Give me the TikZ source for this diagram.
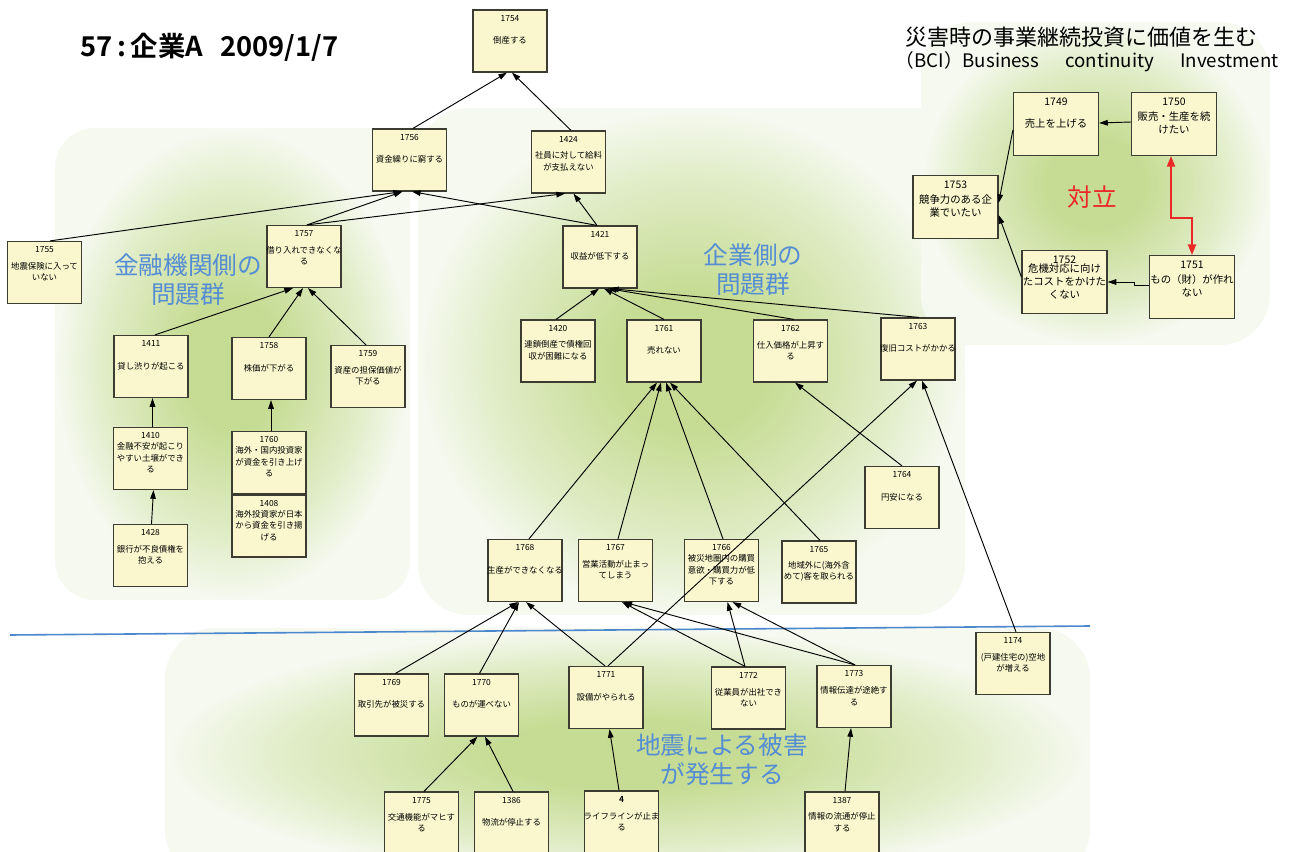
\documentclass[tikz,border=0pt]{standalone}
\usepackage{fontspec}
\setmainfont{Noto Sans CJK JP}[BoldFont={Noto Sans CJK JP Bold}]
\usetikzlibrary{arrows.meta,calc}

\definecolor{boxfill}{RGB}{250,247,206}
\definecolor{boxline}{RGB}{60,60,50}
\definecolor{grpblue}{RGB}{84,141,212}
\definecolor{conflictred}{RGB}{235,40,40}
\definecolor{sepblue}{RGB}{75,135,205}
\definecolor{bgin}{RGB}{198,220,148}
\definecolor{bgmid}{RGB}{224,236,198}
\definecolor{bgout}{RGB}{246,249,240}

% soft green backdrop for each group of issues (path box spans -25bp..25bp)
\pgfdeclareradialshading{blob}{\pgfpoint{0bp}{0bp}}{color(0bp)=(bgin); color(7bp)=(bgin); color(18bp)=(bgmid); color(25bp)=(bgout); color(50bp)=(bgout)}

\tikzset{
  card/.style={draw=boxline, line width=0.9pt, fill=boxfill, minimum width=55.5pt, minimum height=46.5pt, inner sep=0pt},
  bigcard/.style={card, minimum width=63.75pt, minimum height=47pt},
  idtext/.style={inner sep=0pt, font=\fontsize{6.3}{7}\selectfont},
  bodytext/.style={inner sep=0pt, align=center, font=\fontsize{6.3}{8.6}\selectfont},
  bigid/.style={inner sep=0pt, font=\fontsize{7.8}{9}\selectfont},
  bigbody/.style={inner sep=0pt, align=center, font=\fontsize{7.8}{9.75}\selectfont},
  arr/.style={-{Triangle[length=6.5pt,width=4.2pt]}, line width=0.7pt},
  redarr/.style={{Triangle[length=8pt,width=6pt]}-{Triangle[length=8pt,width=6pt]}, line width=1.5pt, draw=conflictred},
  grouplabel/.style={text=grpblue, align=center, font=\fontsize{18.5}{21.5}\selectfont},
}

% issue card: name, x, y, id number, text
\newcommand\issue[5]{%
  \node[card] (#1) at (#2,#3) {};
  \node[idtext] (#1-id) at ($(#1.north)+(0,9)$) {#4};
  \node[bodytext] (#1-tx) at ($(#1.north)+(0,31)$) {#5};
}
% larger card for the BCI group
\newcommand\aim[5]{%
  \node[bigcard] (#1) at (#2,#3) {};
  \node[bigid] (#1-id) at ($(#1.north)+(0,9.5)$) {#4};
  \node[bigbody] (#1-tx) at ($(#1.north)+(0,31)$) {#5};
}

\begin{document}
\begin{tikzpicture}[x=0.75pt,y=-0.75pt]
\useasboundingbox (0,0) rectangle (1293,852);
\clip (0,0) rectangle (1293,852);
\fill[white] (0,0) rectangle (1293,852);

% group backdrops
\shade[shading=blob, rounded corners=30pt] (55,128) rectangle (410,600);
\shade[shading=blob, rounded corners=38pt] (418,108) rectangle (965,615);
\shade[shading=blob, rounded corners=38pt] (921,22) rectangle (1270,345);
\shade[shading=blob, rounded corners=38pt] (165,628) rectangle (1090,880);

% separator between damage and consequences
\draw[sepblue, line width=1.2pt] (10,635) -- (1090,626);

% headings
\node[anchor=west, font=\bfseries\fontsize{20.5}{22}\selectfont] (title) at (76,47) {57\,:\,企業A\hspace{13pt}2009/1/7};
\node[anchor=west, font=\fontsize{16.5}{18}\selectfont] (bci1) at (901,37) {災害時の事業継続投資に価値を生む};
\node[anchor=west, font=\fontsize{14}{18}\selectfont] (bci2) at (891,62) {（BCI）Business\hspace{1.4em}continuity\hspace{1.4em}Investment};

\node[grouplabel] (finlabel) at (188,279.5) {金融機関側の\\問題群};
\node[grouplabel] (corplabel) at (753,269.5) {企業側の\\問題群};
\node[grouplabel] (quakelabel) at (722,759.5) {地震による被害\\が発生する};
\node[text=conflictred, font=\fontsize{18.5}{20}\selectfont] (conflict) at (1092,197) {対立};

% cards
\issue{n1754}{510}{41}{1754}{倒産する}
\issue{n1756}{409.5}{160}{1756}{資金繰りに窮する}
\issue{n1424}{568.5}{162}{1424}{社員に対して給料\\が支払えない}
\issue{n1755}{44.5}{272.5}{1755}{地震保険に入って\\いない}
\issue{n1757}{304}{256.5}{1757}{借り入れできなくな\\る}
\issue{n1421}{600}{257}{1421}{収益が低下する}
\issue{n1411}{151}{366.5}{1411}{貸し渋りが起こる}
\issue{n1758}{269}{368.5}{1758}{株価が下がる}
\issue{n1759}{368}{376.5}{1759}{資産の担保価値が\\下がる}
\issue{n1410}{150.5}{458.5}{1410}{金融不安が起こり\\やすい土壌ができ\\る}
\issue{n1760}{269}{462.5}{1760}{海外・国内投資家\\が資金を引き上げ\\る}
\issue{n1408}{269}{526}{1408}{海外投資家が日本\\から資金を引き揚\\げる}
\issue{n1428}{150.5}{555.5}{1428}{銀行が不良債権を\\抱える}
\issue{n1420}{558}{351}{1420}{連鎖倒産で債権回\\収が困難になる}
\issue{n1761}{664}{351}{1761}{売れない}
\issue{n1762}{790.5}{351}{1762}{仕入価格が上昇す\\る}
\issue{n1763}{918}{349}{1763}{復旧コストがかかる}
\issue{n1764}{902}{497.5}{1764}{円安になる}
\issue{n1768}{525}{570.5}{1768}{生産ができなくなる}
\issue{n1767}{615.5}{570.5}{1767}{営業活動が止まっ\\てしまう}
\issue{n1766}{721.5}{570.5}{1766}{被災地圏内の購買\\意欲・購買力が低\\下する}
\issue{n1765}{819}{572}{1765}{地域外に(海外含\\めて)客を取られる}
\issue{n1769}{391.5}{705}{1769}{取引先が被災する}
\issue{n1770}{481.5}{705}{1770}{ものが運べない}
\issue{n1771}{606}{697.5}{1771}{設備がやられる}
\issue{n1772}{748.5}{698}{1772}{従業員が出社でき\\ない}
\issue{n1773}{854}{696.5}{1773}{情報伝達が途絶す\\る}
\issue{n1174}{1013}{663.5}{1174}{(戸建住宅の)空地\\が増える}
\issue{n1775}{421.5}{823}{1775}{交通機能がマヒす\\る}
\issue{n1386}{511.5}{823}{1386}{物流が停止する}
\issue{n4}{621.5}{822}{\textbf{4}}{ライフラインが止ま\\る}
\issue{n1387}{842}{823}{1387}{情報の流通が停止\\する}

\aim{n1749}{1056}{124}{1749}{売上を上げる}
\aim{n1750}{1174}{124}{1750}{販売・生産を続\\けたい}
\aim{n1753}{955.5}{207}{1753}{競争力のある企\\業でいたい}
\aim{n1752}{1064.5}{282}{1752}{危機対応に向け\\たコストをかけた\\くない}
\aim{n1751}{1192}{287}{1751}{もの（財）が作れ\\ない}

% causal links, top part
\draw[arr] ($(n1756.north)+(3.5,0)$) -- ($(n1754.south)+(-3,0)$);
\draw[arr] ($(n1424.north)+(2.5,0)$) -- ($(n1754.south)+(2,0)$);
\draw[arr] ($(n1755.north)+(5.5,0)$) -- ($(n1756.south)+(-7.5,0)$);
\draw[arr] ($(n1757.north)+(3,0)$) -- ($(n1756.south)+(-7,0)$);
\draw[arr] ($(n1757.north)+(3,0)$) -- ($(n1424.south)+(-3.5,0)$);
\draw[arr] ($(n1421.north)+(-3,0)$) -- ($(n1756.south)+(2.5,0)$);
\draw[arr] ($(n1421.north)+(-3,0)$) -- ($(n1424.south)+(5,0)$);

% financial side
\draw[arr] ($(n1411.north)+(4,0)$) -- ($(n1757.south)+(-11,0)$);
\draw[arr] (n1758.north) -- ($(n1757.south)+(-1,0)$);
\draw[arr] ($(n1759.north)+(-2,0)$) -- ($(n1757.south)+(4,0)$);
\draw[arr] ($(n1410.north)+(2,0)$) -- ($(n1411.south)+(1.5,0)$);
\draw[arr] ($(n1428.north)+(1,0)$) -- ($(n1410.south)+(3,0)$);
\draw[arr] ($(n1760.north)+(2,0)$) -- ($(n1758.south)+(2,0)$);

% company side
\draw[arr] ($(n1420.north)+(-2,0)$) -- ($(n1421.south)+(-1,0)$);
\draw[arr] (n1761.north) -- ($(n1421.south)+(4,0)$);
\draw[arr] ($(n1762.north)+(3.5,0)$) -- ($(n1421.south)+(8,0)$);
\draw[arr] ($(n1763.north)+(1,0)$) -- ($(n1421.south)+(10,0)$);
\draw[arr] ($(n1768.north)+(4,0)$) -- ($(n1761.south)+(-7,0)$);
\draw[arr] ($(n1767.north)+(2.5,0)$) -- ($(n1761.south)+(-3,0)$);
\draw[arr] ($(n1766.north)+(1.5,0)$) -- ($(n1761.south)+(2,0)$);
\draw[arr] ($(n1765.north)+(1,0)$) -- ($(n1761.south)+(6,0)$);
\draw[arr] (n1764.north) -- ($(n1762.south)+(4.5,0)$);
\draw[arr] ($(n1771.north)+(2,0)$) -- ($(n1763.south)+(-1,0)$);
\draw[arr] ($(n1174.north)+(3,0)$) -- ($(n1763.south)+(4,0)$);

% earthquake damage
\draw[arr] ($(n1769.north)+(4,0)$) -- ($(n1768.south)+(-7,0)$);
\draw[arr] ($(n1770.north)+(-2,0)$) -- ($(n1768.south)+(-6,0)$);
\draw[arr] ($(n1771.north)+(-1,0)$) -- ($(n1768.south)+(1,0)$);
\draw[arr] ($(n1772.north)+(-3.5,0)$) -- ($(n1767.south)+(6.5,0)$);
\draw[arr] ($(n1773.north)+(1,0)$) -- ($(n1767.south)+(8,0)$);
\draw[arr] ($(n1772.north)+(-3.5,0)$) -- ($(n1766.south)+(6,0)$);
\draw[arr] ($(n1773.north)+(1,0)$) -- ($(n1766.south)+(11,0)$);
\draw[arr] ($(n1775.north)+(2.5,0)$) -- ($(n1770.south)+(-4,0)$);
\draw[arr] ($(n1386.north)+(1.5,0)$) -- ($(n1770.south)+(3.5,0)$);
\draw[arr] ($(n4.north)+(-2.5,0)$) -- ($(n1771.south)+(3.5,0)$);
\draw[arr] ($(n1387.north)+(3,0)$) -- ($(n1773.south)+(-3,0)$);

% BCI group
\draw[arr] ($(n1750.west)+(0,-2)$) -- ($(n1749.east)+(0,-1)$);
\draw[arr] ($(n1749.west)+(0,6)$) -- ($(n1753.east)+(0,-4)$);
\draw[arr] ($(n1752.west)+(0,-5)$) -- ($(n1753.east)+(0,8)$);
\draw[arr] ($(n1751.west)+(0,-2)$) -- ++(-14,0) -- ++(0,-3) -- (n1752.east);
\draw[redarr] ($(n1750.south)+(-3,0)$) |- ($(n1751.north)+(0,-37)$) -- (n1751.north);
\end{tikzpicture}
\end{document}
